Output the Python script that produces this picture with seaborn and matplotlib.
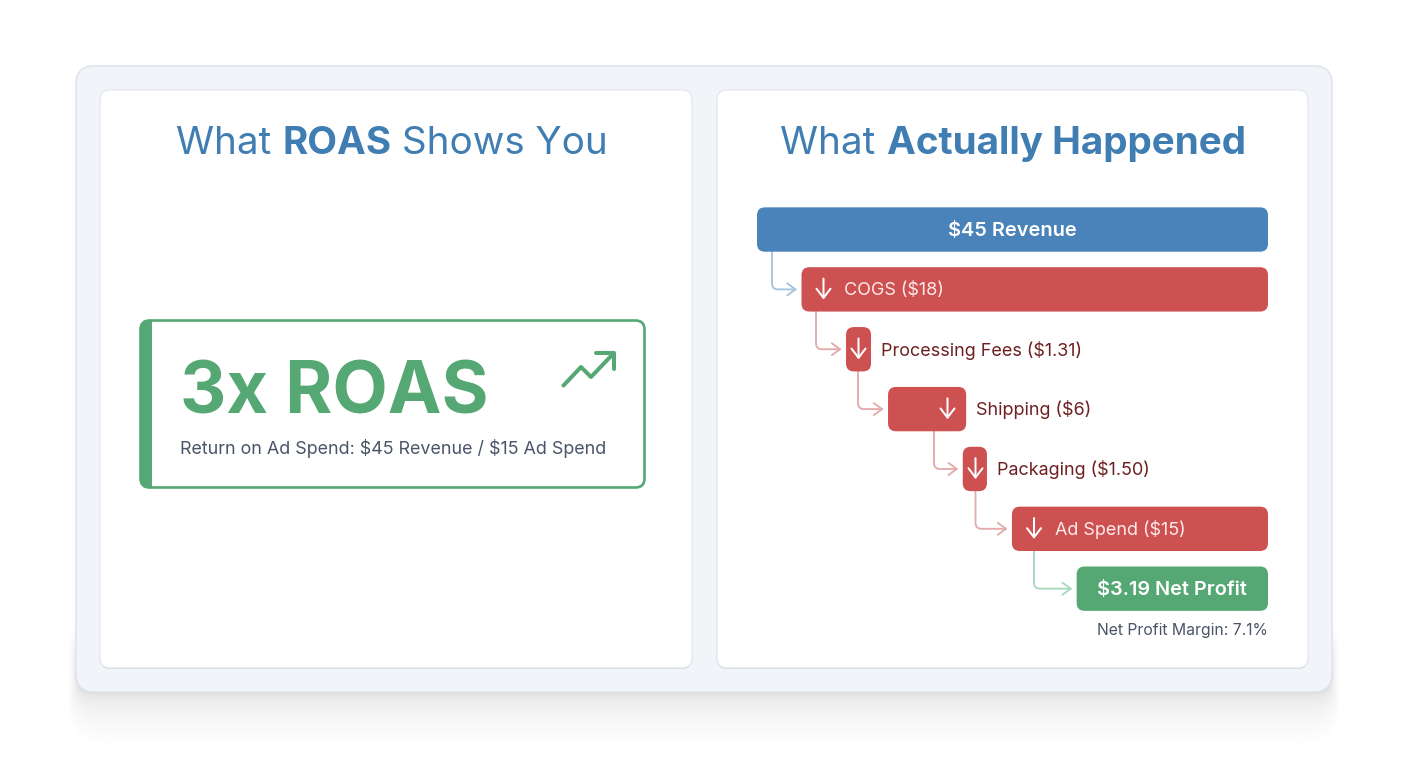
import matplotlib
matplotlib.use('Agg')
import matplotlib.pyplot as plt
from matplotlib.patches import FancyBboxPatch, Rectangle
import pandas as pd
import seaborn as sns

# waterfall rows (bar scale: full revenue bar = 45)
steps = ['$45 Revenue', 'COGS ($18)', 'Processing Fees ($1.31)', 'Shipping ($6)',
         'Packaging ($1.50)', 'Ad Spend ($15)', '$3.19 Net Profit']
bar_start = [0, 3.92, 7.84, 11.54, 18.12, 22.45, 28.15]
bar_width = [45, 41.08, 2.2, 6.88, 2.13, 22.55, 16.85]
kinds = ['rev', 'cost', 'cost', 'cost', 'cost', 'cost', 'profit']

headline = '3x ROAS'
subline = 'Return on Ad Spend: $45 Revenue / $15 Ad Spend'
margin_note = 'Net Profit Margin: 7.1%'
left_title = [('What ', 'normal'), ('ROAS', 'bold'), (' Shows You', 'normal')]
right_title = [('What ', 'normal'), ('Actually Happened', 'bold')]

BLUE = '#4a82ba'
RED = '#cd5150'
GREEN = '#55a873'
TITLE = '#3f7db3'
SLATE = '#4a5568'
DARKRED = '#6e2020'
fill = {'rev': BLUE, 'cost': RED, 'profit': GREEN}
# colour of the connector leaving a row
link = ['#a5c5df', '#e4abab', '#e4abab', '#e4abab', '#e4abab', '#a9d8bb']

sns.set_theme(style='white')
plt.rcParams['font.family'] = ['Inter', 'DejaVu Sans']

fig = plt.figure(figsize=(14.08, 7.68), dpi=100, facecolor='white')
bg = fig.add_axes([0, 0, 1, 1], zorder=0)
bg.set_xlim(0, 1408)
bg.set_ylim(768, 0)
bg.axis('off')


def card(x0, y0, x1, y1, r, fc, ec='none', lw=1.0, z=2, alpha=None):
    p = FancyBboxPatch((x0, y0), x1 - x0, y1 - y0, boxstyle=f'round,pad=0,rounding_size={r}',
                       fc=fc, ec=ec, lw=lw, zorder=z, alpha=alpha)
    bg.add_patch(p)
    return p


# soft shadow under the big panel, mostly below it
n = 32
for i in range(n):
    e = 54 * (1 - i / n) ** 2.4
    card(76 - e * 0.15, 640 - e * 0.6, 1332 + e * 0.15, 694 + e, 18 + e * 0.5, '#6c7078', alpha=0.0058, z=1)

card(76, 66, 1332, 692, 18, '#f1f5f9', '#dfe4ec', 1.2)
bg.add_patch(FancyBboxPatch((100, 91), 592, 578, boxstyle='round,pad=0,rounding_size=10',
                            fc='#d3d8e0', ec='none', zorder=2.5))
bg.add_patch(FancyBboxPatch((717, 91), 591, 578, boxstyle='round,pad=0,rounding_size=10',
                            fc='#d3d8e0', ec='none', zorder=2.5))
card(100, 90, 692, 668, 10, 'white', '#e0e4ea', 0.8, z=3)
card(717, 90, 1308, 668, 10, 'white', '#e0e4ea', 0.8, z=3)


def mixed_title(parts, cx, y):
    rend = fig.canvas.get_renderer()
    pieces = [bg.text(0, y, s.replace(' ', '\u00a0'), fontsize=27.8, fontweight=w, color=TITLE,
                      va='center', ha='left', zorder=5, parse_math=False) for s, w in parts]
    widths = [t.get_window_extent(rend).width for t in pieces]
    x = cx - sum(widths) / 2
    for t, w in zip(pieces, widths):
        t.set_x(x)
        x += w


mixed_title(left_title, 392, 144)
mixed_title(right_title, 1013, 144)

# ROAS callout
card(140.5, 320.5, 644.5, 487.5, 9, 'white', GREEN, 1.9, z=4)
band = card(140, 320, 645, 488, 9, GREEN, z=4.5)
band.set_clip_path(Rectangle((140, 320), 12, 168, transform=bg.transData))
bg.text(179.5, 395, headline, fontsize=51.8, fontweight='bold', color=GREEN, va='center', ha='left', zorder=5)
bg.text(179.5, 449, subline, fontsize=12.9, color=SLATE, va='center', ha='left', zorder=5, parse_math=False)
bg.plot([563.5, 581, 591, 613], [385.5, 367, 377, 354], color=GREEN, lw=2.9,
        solid_capstyle='round', solid_joinstyle='round', zorder=5)
bg.plot([596, 613.5, 613.5], [353, 353, 369], color=GREEN, lw=2.9,
        solid_capstyle='round', solid_joinstyle='round', zorder=5)
bg.text(1268, 631, margin_note, fontsize=11.35, color=SLATE, va='center', ha='right', zorder=5)

# waterfall: one unit is 511/45 px wide, rows are 59.8 px apart
wf = fig.add_axes([757 / 1408, 1 - 618.6 / 768, 511 / 1408, 419 / 768], zorder=2)
wf.patch.set_alpha(0)
df = pd.DataFrame({'step': steps, 'start': bar_start, 'width': bar_width})
sns.barplot(data=df, y='step', x='width', left=df['start'], orient='h', width=0.741,
            color=RED, saturation=1, ax=wf)
wf.set_xlim(0, 45)
wf.set_ylim(6.5, -0.5)
wf.axis('off')

U = 511 / 45
aspect = U / 59.8
for bar, kind in zip(list(wf.patches), kinds):
    bar.set_visible(False)
    wf.add_patch(FancyBboxPatch((bar.get_x(), bar.get_y()), bar.get_width(), bar.get_height(),
                                boxstyle='round,pad=0,rounding_size=0.7', mutation_aspect=aspect,
                                fc=fill[kind], ec='none', zorder=3))


def ux(px):
    return (px - 757) / U


# connectors between rows (x in px where each one leaves its bar)
link_x = [772, 816, 858, 934, 975.5, 1034]
for i, x in enumerate(link_x):
    wf.annotate('', xy=(bar_start[i + 1] - 4.3 / U, i + 1), xytext=(ux(x), i + 0.37),
                arrowprops=dict(arrowstyle='->,head_length=0.5,head_width=0.36',
                                connectionstyle='angle,angleA=90,angleB=0,rad=6',
                                color=link[i], lw=1.35, shrinkA=0, shrinkB=0), zorder=2)

# little white down arrows inside the cost bars
icon_x = {1: 823.5, 2: 858.5, 3: 947.5, 4: 975.5, 5: 1034}
for i, x in icon_x.items():
    wf.annotate('', xy=(ux(x), i + 0.17), xytext=(ux(x), i - 0.18),
                arrowprops=dict(arrowstyle='->,head_length=0.55,head_width=0.42', color='white',
                                lw=1.45, shrinkA=0, shrinkB=0), zorder=5)

for i, lx, col in [(1, 844.5, '#fbeaea'), (2, 881, DARKRED), (3, 976, DARKRED),
                   (4, 997, DARKRED), (5, 1055, '#fbeaea')]:
    wf.text(ux(lx), i + 0.015, steps[i], fontsize=12.95, color=col, ha='left', va='center', zorder=6, parse_math=False)
wf.text(ux(1012.5), 0.03, steps[0], fontsize=14.4, fontweight='semibold', color='white',
        ha='center', va='center', zorder=6, parse_math=False)
wf.text(ux(1172), 6.03, steps[6], fontsize=14.3, fontweight='semibold', color='white',
        ha='center', va='center', zorder=6, parse_math=False)

fig.savefig('out.png', dpi=100)
